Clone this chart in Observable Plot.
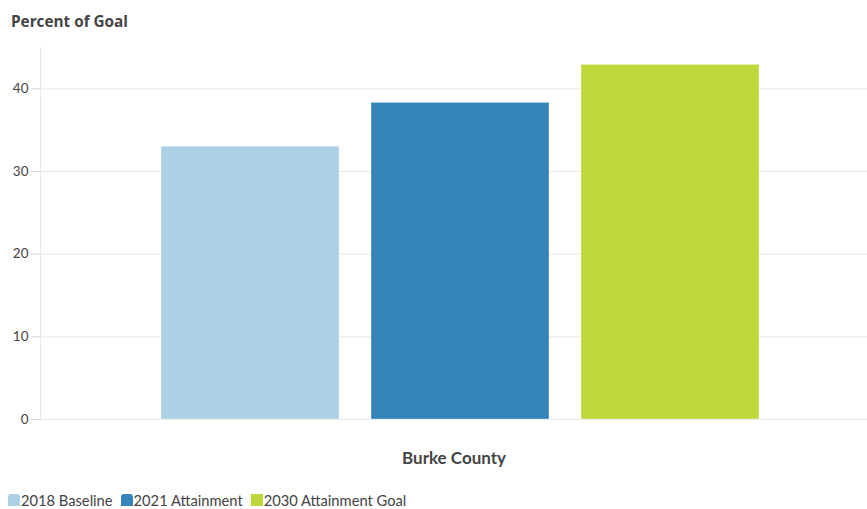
<!DOCTYPE html>
<html>
<head>
<meta charset="utf-8">
<script src="https://cdn.jsdelivr.net/npm/d3@7"></script>
<script src="https://cdn.jsdelivr.net/npm/@observablehq/plot@0.6"></script>
<style>
  body { margin: 0; background: #fff; font-family: Lato, "Open Sans", sans-serif; overflow: hidden; }
  #title { height: 40px; padding-left: 11px; font: bold 15.3px "Open Sans", sans-serif; color: #444; line-height: 42px; }
  #legend { display: flex; gap: 8px; padding-left: 8px; font: 14.7px Lato, sans-serif; color: #444; margin-top: 7px; line-height: 16px; }
  .item { display: flex; align-items: center; gap: 1px; white-space: nowrap; }
  .sw { width: 12px; height: 12px; border-radius: 3px 3px 0 0; display: inline-block; }
</style>
</head>
<body>
<div id="title">Percent of Goal</div>
<div id="chart"></div>
<div id="legend"></div>
<script>
const counties = ["Burke County"];
const series = ["2018 Baseline", "2021 Attainment", "2030 Attainment Goal"];
const values = [33.0, 38.3, 42.9];
const colors = ["#acd1e5", "#3584bb", "#bfd73b"];
const yTicks = [0, 10, 20, 30, 40];

const data = series.map((s, i) => ({county: counties[0], series: s, value: values[i]}));

const chart = Plot.plot({
  width: 867,
  height: 445,
  marginLeft: 40,
  marginRight: 0,
  marginTop: 7,
  marginBottom: 66,
  style: {fontFamily: "Lato, sans-serif", fontSize: "13px", color: "#444"},
  fx: {domain: counties, padding: 0, label: null},
  x: {domain: series, paddingInner: 0.152, paddingOuter: 0.545, align: 0.53, axis: null},
  y: {domain: [0, 45], label: null},
  color: {domain: series, range: colors},
  marks: [
    Plot.gridY(yTicks, {stroke: "#e8e8e8", strokeOpacity: 1}),
    Plot.frame({anchor: "left", stroke: "#e8e8e8", strokeOpacity: 1}),
    Plot.ruleY([0], {stroke: "#e8e8e8", strokeOpacity: 1}),
    Plot.axisY(yTicks, {tickSize: 9, tickPadding: 3, stroke: "#d8d8d8", fill: "#444", fontSize: 13.5, label: null}),
    Plot.axisFx({anchor: "bottom", tickSize: 0, tickPadding: 32, fontSize: 17, fontWeight: "bold", fill: "#444", label: null}),
    Plot.barY(data, {fx: "county", x: "series", y: "value", fill: "series", stroke: "#fff", strokeOpacity: 0.35})
  ]
});
document.getElementById("chart").appendChild(chart);

const legend = document.getElementById("legend");
series.forEach((s, i) => {
  const item = document.createElement("span");
  item.className = "item";
  const sw = document.createElement("span");
  sw.className = "sw";
  sw.style.background = colors[i];
  if (i === 2) sw.style.borderRadius = "0";
  item.appendChild(sw);
  item.appendChild(document.createTextNode(s));
  legend.appendChild(item);
});
</script>
</body>
</html>
